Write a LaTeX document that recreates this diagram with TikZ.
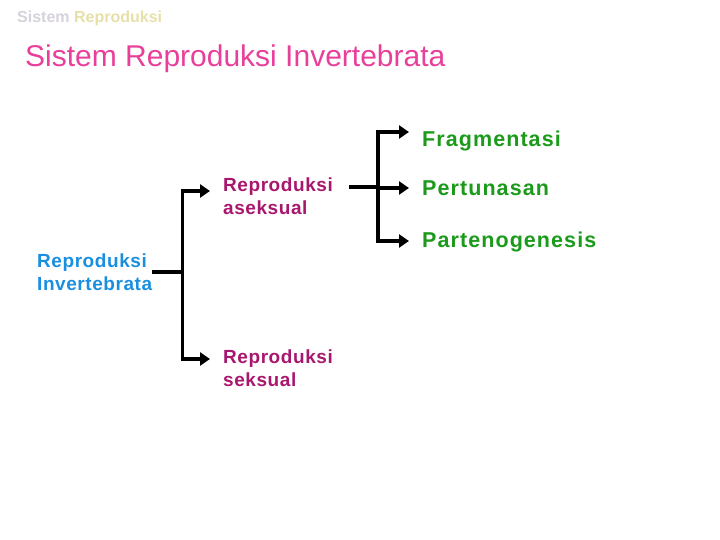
\documentclass[tikz,border=0pt]{standalone}
\usepackage{fontspec}
\setmainfont{Liberation Sans}
\newfontfamily\labelfont[LetterSpace=3]{Liberation Sans}
\newfontfamily\leaffont[LetterSpace=5]{Liberation Sans}
\usetikzlibrary{arrows.meta,positioning,calc}
\definecolor{titlepink}{HTML}{E8409A}
\definecolor{rootblue}{HTML}{1A8FE0}
\definecolor{branchplum}{HTML}{A8176E}
\definecolor{leafgreen}{HTML}{1C9A1C}
\definecolor{headgrey}{HTML}{D6D2DC}
\definecolor{headcream}{HTML}{E6E0A8}
\tikzset{
  rootlabel/.style={
    anchor=west,
    inner sep=0pt,
    align=left,
    text=rootblue,
    font=\labelfont\bfseries\fontsize{19}{23}\selectfont
  },
  branchlabel/.style={
    anchor=west,
    inner sep=0pt,
    align=left,
    text=branchplum,
    font=\labelfont\bfseries\fontsize{19}{23}\selectfont
  },
  leaflabel/.style={
    anchor=west,
    inner sep=0pt,
    text=leafgreen,
    font=\leaffont\bfseries\fontsize{21.5}{24}\selectfont
  },
  link/.style={
    line width=3.5pt,
    draw=black
  },
  arrow/.style={
    link,
    -{Triangle[length=10pt,width=13pt]},
    shorten >=13pt
  }
}
\begin{document}
\begin{tikzpicture}[x=1pt,y=-1pt]
\useasboundingbox (0,0) rectangle (720,540);
% heading
\node[anchor=base west, inner sep=0pt, font=\bfseries\fontsize{16}{18}\selectfont] (head) at (17,23)
  {\textcolor{headgrey}{Sistem} \textcolor{headcream}{Reproduksi}};
\node[anchor=base west, inner sep=0pt, text=titlepink, font=\fontsize{30}{34}\selectfont] (title) at (25,67)
  {Sistem Reproduksi Invertebrata};
% tree
\node[rootlabel] (inv) at (37,272) {Reproduksi\\Invertebrata};
\node[branchlabel] (aseks) at (223,196) {Reproduksi\\aseksual};
\node[branchlabel] (seks) at (223,368) {Reproduksi\\seksual};
\node[leaflabel] (frag) at (422,141) {Fragmentasi};
\node[leaflabel] (pert) at (422,188) {Pertunasan};
\node[leaflabel] (parte) at (422,242) {Partenogenesis};
\coordinate (jl) at ([xshift=30pt]inv.east);
\coordinate (jr) at (378,187);
\draw[link] (inv.east) -- (jl);
\draw[arrow] (jl) |- ([yshift=5pt]aseks.west);
\draw[arrow] (jl) |- ([yshift=9pt]seks.west);
\draw[link] ([xshift=16pt]aseks.east |- jr) -- (jr);
\foreach \n/\dy in {frag/9pt,pert/0pt,parte/1pt} {
  \draw[arrow] (jr) |- ([yshift=\dy]\n.west);
}
\end{tikzpicture}
\end{document}
